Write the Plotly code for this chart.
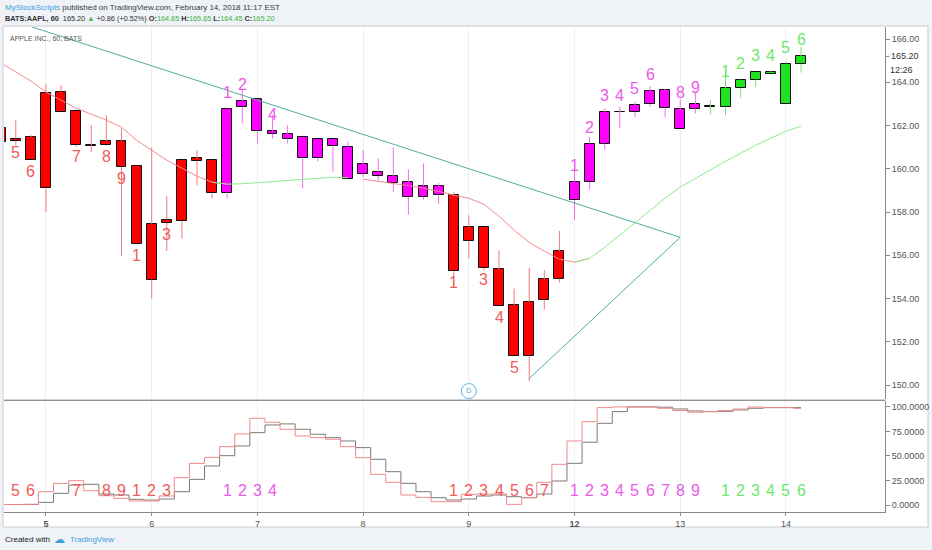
import plotly.graph_objects as go

# hourly bars, index 0 = Feb 5 09:30
bars = list(range(-3, 51))

opens = [161.88, 161.40, 161.45, 159.09, 163.56, 162.67, 161.06, 161.28, 161.28, 160.13,
         154.87, 157.65, 157.59, 160.37, 160.40, 158.90, 162.84, 163.25, 161.62, 161.60,
         161.45, 160.51, 161.36, 161.02, 160.21, 159.86, 159.67, 159.39, 158.70, 159.19,
         158.78, 156.65, 157.31, 155.35, 153.68, 151.34, 153.95, 154.92, 158.55, 159.39,
         161.17, 162.61, 162.63, 162.98, 163.64, 161.82, 162.79, 162.87, 162.84, 163.72,
         164.13, 164.38, 162.99, 164.85]
highs = [162.10, 162.25, 161.56, 163.92, 163.87, 162.67, 162.02, 162.48, 161.87, 160.13,
         160.99, 158.73, 160.40, 160.86, 160.40, 162.79, 163.64, 163.25, 162.48, 162.02,
         161.45, 161.37, 161.36, 161.25, 160.86, 160.48, 160.99, 159.97, 160.25, 159.35,
         158.93, 157.85, 157.31, 156.23, 154.46, 155.43, 155.31, 157.13, 159.90, 161.48,
         162.79, 162.87, 163.10, 163.82, 163.70, 163.22, 163.56, 163.18, 164.64, 164.18,
         164.49, 164.55, 164.95, 165.65]
lows = [161.00, 161.09, 160.40, 158.00, 162.63, 161.00, 160.78, 161.05, 155.95, 156.54,
        153.99, 156.20, 156.77, 159.24, 158.63, 158.63, 162.10, 161.17, 161.40, 161.17,
        159.09, 160.35, 159.86, 159.52, 159.63, 159.47, 158.93, 157.88, 158.58, 158.39,
        154.61, 155.85, 155.30, 153.65, 151.34, 150.18, 153.49, 154.74, 157.65, 159.04,
        160.89, 161.87, 162.40, 162.87, 162.40, 161.82, 162.56, 162.53, 162.48, 163.28,
        163.79, 164.35, 162.99, 164.45]
closes = [161.23, 161.28, 160.40, 163.53, 162.63, 161.09, 161.06, 161.09, 160.09, 156.54,
          157.44, 157.50, 160.40, 160.48, 158.86, 162.79, 163.13, 161.74, 161.74, 161.40,
          160.48, 161.37, 161.05, 159.52, 159.78, 159.67, 159.36, 158.70, 159.21, 158.78,
          155.26, 157.31, 155.42, 153.65, 151.34, 153.84, 154.89, 156.19, 159.39, 161.17,
          162.61, 162.61, 162.94, 163.59, 162.82, 162.76, 162.98, 162.87, 163.72, 164.13,
          164.49, 164.49, 164.87, 165.20]

# TD setup phase per bar: r = sell setup, m = buy setup, g = continuation
phase = ["r"] * 15 + ["m"] * 15 + ["r"] * 8 + ["m"] * 9 + ["g"] * 7
setup_count = [None, 5, 6, None, None, 7, None, 8, 9, 1, 2, 3, None, None, None,
               1, 2, 3, 4, None, None, None, None, None, None, None, None, None, None, None,
               1, 2, 3, 4, 5, 6, 7, None,
               1, 2, 3, 4, 5, 6, 7, 8, 9,
               None, 1, 2, 3, 4, 5, 6]

ma = [164.9, 164.47, 164.06, 163.55, 163.18, 162.8, 162.53, 162.25, 161.93, 161.32,
      160.86, 160.4, 160.03, 159.66, 159.38, 159.29, 159.31, 159.36, 159.4, 159.45,
      159.5, 159.54, 159.61, 159.59, 159.52, 159.43, 159.33, 159.22, 159.1, 158.96,
      158.78, 158.64, 158.36, 157.81, 157.16, 156.6, 156.19, 155.82, 155.68, 155.86,
      156.37, 156.93, 157.53, 158.08, 158.64, 159.15, 159.56, 159.98, 160.35, 160.72,
      161.09, 161.42, 161.74, 161.97]
ma_up = [False] * 15 + [True] * 9 + [False] * 15 + [True] * 15

stoch_k = [0.6, 0.6, 0.8, 13.6, 22, 24.8, 14.6, 9.5, 6.8, 4.1, 4.1, 9.2, 27.9, 42.5, 48.6,
           59.5, 72.4, 88.4, 84.4, 77.2, 70.4, 68.7, 67, 59.5, 48.3, 31.3, 23.2, 10.2, 7.8,
           3.4, 3.4, 10.9, 11.2, 11.2, 0.7, 7.5, 23.2, 41.5, 65.3, 85, 99.3, 100, 100, 100,
           98.6, 96.3, 94.6, 95.2, 96.3, 97.9, 99.9, 99.3, 99.3, 98.6]
stoch_d = [0.5, 0.5, 0.5, 2.7, 11.9, 20.4, 21.1, 11.2, 10.2, 5.8, 5.1, 6.1, 13.6, 26.2, 39.8,
           50.3, 60.2, 73.8, 81.6, 82.7, 77.2, 72.1, 68.7, 65.3, 58.5, 46.6, 34, 22.1, 13.6,
           7.5, 5.1, 6.1, 9.2, 10.2, 8.5, 7.5, 11.2, 24.5, 42.5, 64, 83.3, 95.2, 100, 100,
           99.7, 97.9, 95.9, 95.2, 95.5, 96.9, 98.6, 99.3, 99.3, 99.3]

# trendlines (bar, price)
down_line = [(-1, 166.58), (42, 156.83)]
up_line = [(32, 150.3), (42, 156.83)]
dividend_bar = 28

day_ticks = [0, 7, 14, 21, 28, 35, 42, 49]
day_labels = ["<b>5</b>", "6", "7", "8", "9", "<b>12</b>", "13", "14"]

body_col = {"r": "#ff0000", "m": "#ff00ff", "g": "#1ee31e"}
wick_col = {"r": "#f47a7a", "m": "#ee70ee", "g": "#7ee07e"}
text_col = {"r": "#f05a5a", "m": "#e95ae9", "g": "#6ee86e"}
FONT = "Liberation Sans, Arial, sans-serif"

fig = go.Figure()

# wicks above and below the body
for p in "rmg":
    xs, ys = [], []
    for i, o, h, l, c, ph in zip(bars, opens, highs, lows, closes, phase):
        if ph != p:
            continue
        xs += [i, i, None, i, i, None]
        ys += [h, max(o, c), None, min(o, c), l, None]
    fig.add_trace(go.Scatter(x=xs, y=ys, mode="lines", line=dict(color=wick_col[p], width=1),
                             hoverinfo="skip", showlegend=False))

# candle bodies
fig.add_trace(go.Bar(
    x=bars, base=[min(o, c) for o, c in zip(opens, closes)],
    y=[max(abs(c - o), 0.02) for o, c in zip(opens, closes)],
    width=0.66, marker=dict(color=[body_col[p] for p in phase], line=dict(color="#111", width=1)),
    showlegend=False, hoverinfo="skip"))

# moving average, coloured by regime
red_ma, green_ma = [], []
for k, v in enumerate(ma):
    up = ma_up[k]
    nxt = ma_up[k + 1] if k + 1 < len(ma) else up
    prv = ma_up[k - 1] if k > 0 else up
    red_ma.append(v if (not up or not prv) else None)
    green_ma.append(v if (up or nxt) else None)
fig.add_trace(go.Scatter(x=bars, y=red_ma, mode="lines", line=dict(color="#f08a8a", width=1),
                         showlegend=False, hoverinfo="skip"))
fig.add_trace(go.Scatter(x=bars, y=green_ma, mode="lines", line=dict(color="#8ee88e", width=1),
                         showlegend=False, hoverinfo="skip"))

for ln in (down_line, up_line):
    fig.add_trace(go.Scatter(x=[p[0] for p in ln], y=[p[1] for p in ln], mode="lines",
                             line=dict(color="#4caf9a", width=1), showlegend=False, hoverinfo="skip"))

# dividend marker
fig.add_trace(go.Scatter(x=[dividend_bar], y=[149.72], mode="markers+text", text=["D"],
                         textfont=dict(size=7, color="#3d9fe0", family=FONT), textposition="middle center",
                         marker=dict(symbol="circle", size=15, color="white", line=dict(color="#5ab0ea", width=1)),
                         showlegend=False, hoverinfo="skip"))

# stochastic pane
fig.add_trace(go.Scatter(x=bars, y=stoch_d, yaxis="y2", mode="lines", line=dict(color="#7a7a7a", width=1, shape="hvh"),
                         showlegend=False, hoverinfo="skip"))
fig.add_trace(go.Scatter(x=bars, y=stoch_k, yaxis="y2", mode="lines", line=dict(color="#f28888", width=1, shape="hvh"),
                         showlegend=False, hoverinfo="skip"))

ann = []
for i, o, c, ph, n in zip(bars, opens, closes, phase, setup_count):
    if n is None:
        continue
    col = text_col[ph]
    ann.append(dict(x=i, y=14.5, xref="x", yref="y2", text=str(n), showarrow=False,
                    font=dict(size=16, color=col, family=FONT)))
    # counts sit under the candles in the source, so only those clear of the body show
    if ph == "r" and c <= o:
        ann.append(dict(x=i, y=c, xref="x", yref="y", text=str(n), showarrow=False, yanchor="top",
                        yshift=-1, font=dict(size=16, color=col, family=FONT)))
    elif ph != "r" and c >= o:
        ann.append(dict(x=i, y=c, xref="x", yref="y", text=str(n), showarrow=False, yanchor="bottom",
                        yshift=6, font=dict(size=16, color=col, family=FONT)))


def note(x, y, text, size, color="#444", xanchor="left", yref="paper", family=FONT):
    return dict(x=x, y=y, xref="paper", yref=yref, xanchor=xanchor, yanchor="middle",
                showarrow=False, text=text, font=dict(size=size, color=color, family=family))


GREEN = "#3cb34a"
ann += [
    note(-0.0012, 1.041, '<span style="color:#3ca0d8">MyStockScripts</span> published on TradingView.com, '
                         'February 14, 2018 11:17 EST', 8, color="#3a3a3a"),
    note(-0.0012, 1.0165, f'<b>BATS:AAPL, 60</b>  165.20 <span style="color:{GREEN}">▲</span> +0.86 (+0.52%) '
                          f'<b>O:</b><span style="color:{GREEN}">164.85</span> <b>H:</b><span style="color:{GREEN}">165.65</span> '
                          f'<b>L:</b><span style="color:{GREEN}">164.45</span> <b>C:</b><span style="color:{GREEN}">165.20</span>',
         7.3, color="#333"),
    note(0.0045, 0.976, "APPLE INC., 60, BATS", 7, color="#555"),
    note(1.0045, 165.20, "165.20", 9, color="#333", yref="y"),
    note(1.0345, 164.56, "12:26", 9, color="#333", xanchor="right", yref="y"),
    note(-0.0015, -0.0557, "Created with", 8, color="#222"),
    note(0.0545, -0.0557, "☁", 11, color="#3ca0d8", family="DejaVu Sans"),
    note(0.0725, -0.0557, "TradingView", 8, color="#3ca0d8"),
]

shapes = [
    dict(type="rect", xref="paper", yref="paper", x0=-0.0011, x1=1.0488, y0=-0.031, y1=1.002,
         line=dict(color="#c9ced4", width=1), fillcolor="white", layer="below"),
    dict(type="line", xref="paper", yref="paper", x0=0, x1=1, y0=0.2305, y1=0.2305,
         line=dict(color="#666", width=1)),
    dict(type="line", xref="paper", yref="y", x0=1, x1=1.005, y0=165.20, y1=165.20,
         line=dict(color="#888", width=1)),
]

axis_font = dict(size=9, color="#555", family=FONT)
fig.update_layout(
    width=932, height=550,
    margin=dict(l=4, r=47, t=27, b=38, autoexpand=False),
    paper_bgcolor="#eff2f6", plot_bgcolor="white",
    barmode="overlay", bargap=0,
    annotations=ann, shapes=shapes,
    font=dict(family=FONT, size=9, color="#555"),
    xaxis=dict(range=[-2.78, 55.56], anchor="y2", tickvals=day_ticks, ticktext=day_labels, automargin=False,
               showgrid=True, gridcolor="#edf0f3", zeroline=False, showline=True, linecolor="#888",
               ticks="outside", ticklen=3, tickcolor="#888", tickfont=axis_font),
    yaxis=dict(domain=[0.232, 1], range=[149.33, 166.56], side="right", tickvals=list(range(150, 167, 2)),
               tickformat=".2f", showgrid=False, zeroline=False, showline=True, linecolor="#888", automargin=False,
               ticks="outside", ticklen=4, tickcolor="#888", tickfont=axis_font),
    yaxis2=dict(domain=[0, 0.229], range=[-7.1, 106.1], side="right", tickvals=[0, 25, 50, 75, 100],
                tickformat=".4f", showgrid=False, zeroline=False, showline=True, linecolor="#888", automargin=False,
                ticks="outside", ticklen=4, tickcolor="#888", tickfont=axis_font),
)

fig.write_html("out.html", config={"displayModeBar": False},
               post_script="document.body.style.margin='0';document.body.style.overflow='hidden';")
